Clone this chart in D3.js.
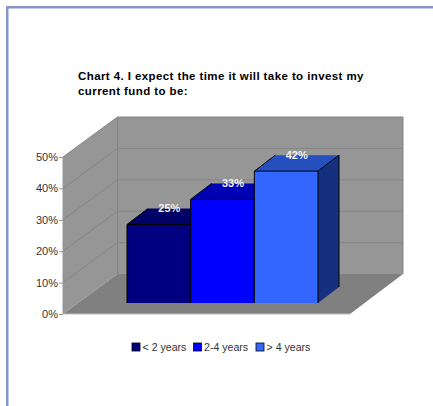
<!DOCTYPE html>
<html>
<head>
<meta charset="utf-8">
<style>
html,body{margin:0;padding:0;background:#fff;overflow:hidden}
svg{display:block}
text{font-family:"Liberation Sans",Arial,sans-serif}
</style>
<script src="https://cdn.jsdelivr.net/npm/d3@7/dist/d3.min.js"></script>
</head>
<body>
<script>
// Survey results
const categories = ["< 2 years", "2-4 years", "> 4 years"];
const values = [25, 33, 42];
const tickValues = [0, 10, 20, 30, 40, 50];
const titleLines = ["Chart 4. I expect the time it will take to invest my", "current fund to be:"];
const frontColors = ["#000080", "#0000ff", "#3366ff"];
const topColors = ["#000066", "#0000b4", "#264fc0"];
const sideColors = ["#00004d", "#000080", "#163080"];

const W = 433, H = 406;
const svg = d3.select("body").append("svg").attr("width", W).attr("height", H);

// Page frame: top and left rules only
svg.append("rect").attr("x", 6).attr("y", 6).attr("width", W - 6).attr("height", 2.5).attr("fill", "#8497c9");
svg.append("rect").attr("x", 6).attr("y", 6).attr("width", 2.5).attr("height", H - 6).attr("fill", "#8497c9");

svg.selectAll("text.title").data(titleLines).join("text")
  .attr("class", "title")
  .attr("x", 78).attr("y", (d, i) => 80 + i * 15)
  .attr("font-size", 11.5).attr("letter-spacing", 0.41).attr("font-weight", "bold").attr("fill", "#000")
  .text(d => d);

// Oblique projection: the back wall is the front plane shifted by depth
const x0 = 63, x1 = 350, depthX = 54.5, depthY = -40;
const y = d3.scaleLinear().domain([0, 50]).range([314, 157]);
const line = d3.line();

const wallFill = "#969696", floorFill = "#808080", gridColor = "#858585";
const backRight = x1 + depthX - 1.5;

// Side wall
svg.append("path")
  .attr("d", line([[x0, y(0)], [x0, y(50)], [x0 + depthX, y(50) + depthY], [x0 + depthX, y(0) + depthY]]) + "Z")
  .attr("fill", wallFill);
// Back wall
svg.append("path")
  .attr("d", line([[x0 + depthX, y(50) + depthY], [backRight, y(50) + depthY], [backRight, y(0) + depthY], [x0 + depthX, y(0) + depthY]]) + "Z")
  .attr("fill", wallFill);
// Floor
svg.append("path")
  .attr("d", line([[x0, y(0)], [x0 + depthX, y(0) + depthY], [backRight, y(0) + depthY], [x1, y(0)]]) + "Z")
  .attr("fill", floorFill);

// Gridlines run along the side wall and across the back wall
svg.append("g").selectAll("path").data(tickValues.slice(1)).join("path")
  .attr("d", t => line([[x0, y(t)], [x0 + depthX, y(t) + depthY], [backRight, y(t) + depthY]]))
  .attr("fill", "none").attr("stroke", gridColor).attr("stroke-width", 1);
svg.append("path")
  .attr("d", line([[x0 + depthX, y(50) + depthY], [x0 + depthX, y(0) + depthY]]))
  .attr("stroke", gridColor).attr("fill", "none");
svg.append("path")
  .attr("d", line([[backRight, y(50) + depthY], [backRight, y(0) + depthY]]))
  .attr("stroke", gridColor).attr("fill", "none");

// Front axis line, floor edge and tick marks
svg.append("path").attr("d", line([[x0, y(0)], [x0, y(50)]])).attr("stroke", "#969696").attr("fill", "none");
svg.append("path").attr("d", line([[x0, y(0)], [x1, y(0)]])).attr("stroke", "#c0c0c0").attr("stroke-width", 1.2).attr("fill", "none");

const axis = d3.axisLeft(y).tickValues(tickValues).tickSize(4).tickFormat(d => d + "%");
const axisG = svg.append("g").attr("transform", `translate(${x0},0)`).call(axis);
axisG.select(".domain").remove();
axisG.selectAll(".tick line").attr("stroke", "#969696");
axisG.selectAll(".tick text").attr("x", -5).attr("font-size", 11).attr("fill", "#333")
  .attr("font-family", '"Liberation Sans",Arial,sans-serif');

// Bars stand on a base line set back from the front edge
const band = d3.scaleBand().domain(categories).range([127, 318]);
const baseValue = 3.5;
const barDX = 21, barDY = -16;
const barY = v => y(v + baseValue);
const base = y(baseValue);

const bars = svg.append("g").selectAll("g").data(categories).join("g");
// Side face
bars.append("path")
  .attr("d", (c, i) => {
    const r = band(c) + band.bandwidth(), t = barY(values[i]);
    return line([[r, base], [r, t], [r + barDX, t + barDY], [r + barDX, base + barDY]]) + "Z";
  })
  .attr("fill", (c, i) => sideColors[i]);
// Top face
bars.append("path")
  .attr("d", (c, i) => {
    const l = band(c), r = l + band.bandwidth(), t = barY(values[i]);
    return line([[l, t], [l + barDX, t + barDY], [r + barDX, t + barDY], [r, t]]) + "Z";
  })
  .attr("fill", (c, i) => topColors[i]);
// Front face
bars.append("rect")
  .attr("x", c => band(c)).attr("width", band.bandwidth())
  .attr("y", (c, i) => barY(values[i]))
  .attr("height", (c, i) => base - barY(values[i]))
  .attr("fill", (c, i) => frontColors[i]);
// Black outline on the visible ridges; the base and rear top edge stay unstroked
bars.append("path")
  .attr("d", (c, i) => {
    const l = band(c), r = l + band.bandwidth(), t = barY(values[i]);
    return line([[l, base], [l, t], [l + barDX, t + barDY]]) +
      line([[l, t], [r, t], [r + barDX, t + barDY], [r + barDX, base + barDY]]) +
      line([[r, t], [r, base]]);
  })
  .attr("fill", "none").attr("stroke", "#000").attr("stroke-width", 1);

// Value labels sit on the bar tops
bars.append("text")
  .attr("x", c => band(c) + band.bandwidth() / 2 + 10.5)
  .attr("y", (c, i) => barY(values[i]) - 12.5)
  .attr("text-anchor", "middle").attr("font-size", 11).attr("font-weight", "bold")
  .attr("fill", "#f0f0f0")
  .text((c, i) => values[i] + "%");

// Legend
const legendX = [132, 193.5, 256];
const legend = svg.append("g").selectAll("g").data(categories).join("g")
  .attr("transform", (c, i) => `translate(${legendX[i]},342.5)`);
legend.append("rect").attr("width", 8).attr("height", 8).attr("y", 0.5)
  .attr("fill", (c, i) => frontColors[i]).attr("stroke", "#000").attr("stroke-width", 0.8);
legend.append("text").attr("x", 10.5).attr("y", 8.5).attr("font-size", 10.6).attr("fill", "#333").text(c => c);
</script>
</body>
</html>
